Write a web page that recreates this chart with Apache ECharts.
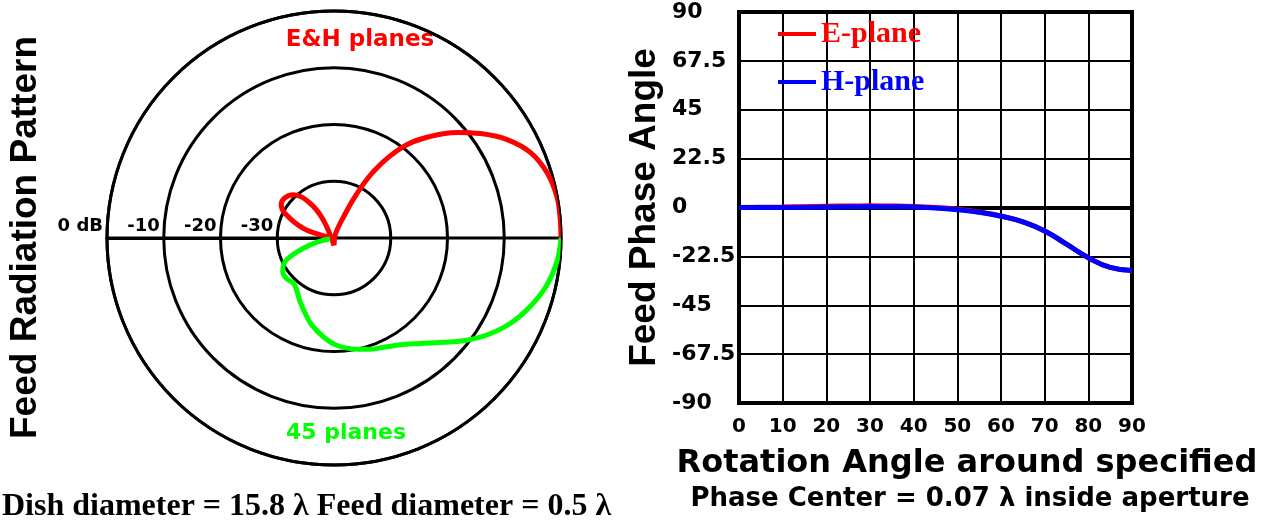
<!DOCTYPE html>
<html><head><meta charset="utf-8">
<script src="https://cdn.jsdelivr.net/npm/echarts@6/dist/echarts.min.js"></script>
<style>html,body{margin:0;padding:0;background:#fff}#c{width:1265px;height:525px}</style>
</head><body><div id="c"></div>
<script>
// ---- Polar radiation pattern: [level dB, angle deg] ----
const ehMainLobe = [[0,0],[0,5],[-0.05,10.5],[-0.7,16.9],[-2.2,23.4],[-4.9,29.6],[-8.3,35.5],[-11.4,40.6],[-15.3,46.5],[-19.8,52.8],[-26,59],[-31.5,62.9],[-36.1,65.8],[-39.2,70],[-41.3,90]];
const ehBackLobe = [[-41.3,90],[-36.3,120.7],[-32.5,124.7],[-29.5,133.4],[-28.8,141],[-29.0,147.8],[-30.3,153.3],[-34.3,162.5],[-38.7,170],[-40,180]];
const plane45 = [[0,0],[-0.5,-6.1],[-1.6,-12.5],[-3.4,-19.3],[-5.5,-25.9],[-8.1,-32.4],[-10.9,-38.5],[-13.4,-43.7],[-16.0,-50.8],[-17.6,-56.9],[-18.7,-64.1],[-19.4,-72],[-20.0,-78.4],[-21.1,-88.6],[-22.5,-96.2],[-24.2,-104.4],[-25.8,-111],[-27.3,-118.1],[-28.7,-125.7],[-29.3,-132],[-29.0,-139.6],[-29.2,-146.7],[-29.9,-152],[-31.6,-157],[-34.3,-161.4],[-36.8,-166],[-39.3,-168]];
const radiusTickLabels = ['', '-30', '-20', '-10', '0 dB'];

// ---- Phase plot ----
const rotationAngles = [0,5,10,15,20,25,30,35,40,45,50,55,60,65,70,75,80,85,90];
const ePlanePhase = [0,0.1,0.2,0.4,0.6,0.7,0.75,0.7,0.5,0,-0.8,-2.1,-3.9,-6.6,-10.8,-16.9,-23.1,-27.6,-29.0];
const hPlanePhase = [0,0,0,0.1,0.2,0.3,0.4,0.35,0.2,-0.2,-1.0,-2.2,-4.0,-6.6,-10.8,-16.9,-23.1,-27.6,-29.0];

const SANS = 'DejaVu Sans';
const ARIAL = 'Liberation Sans';
const SERIF = 'Liberation Serif';

const chart = echarts.init(document.getElementById('c'), null, {renderer: 'canvas'});
const option = {
  animation: false,
  backgroundColor: '#fff',
  polar: { center: [334, 238], radius: 227 },
  angleAxis: {
    type: 'value', min: -180, max: 180, interval: 180, startAngle: 180, clockwise: false,
    axisLine: { lineStyle: { color: '#000', width: 3 } },
    axisTick: { show: false }, axisLabel: { show: false },
    splitLine: { show: true, lineStyle: { color: '#000', width: 3 } }
  },
  radiusAxis: {
    type: 'value', min: -40, max: 0, interval: 10,
    axisLine: { show: true, lineStyle: { color: '#000', width: 3 } },
    axisTick: { show: false },
    splitLine: { show: true, lineStyle: { color: '#000', width: 3 } },
    axisLabel: {
      formatter: v => radiusTickLabels[Math.round((v + 40) / 10)],
      color: '#000', fontFamily: SANS, fontWeight: 'bold', fontSize: 18,
      align: 'right', verticalAlign: 'bottom', margin: -3, padding: [0, 4, 0, 0]
    }
  },
  grid: { left: 739, top: 12, width: 393, height: 391, show: true, borderColor: '#000', borderWidth: 4 },
  xAxis: {
    type: 'value', min: 0, max: 90, interval: 10,
    axisLine: { show: true, lineStyle: { color: '#000', width: 4 } },
    axisTick: { show: false },
    splitLine: { show: true, lineStyle: { color: '#000', width: 2 } },
    axisLabel: { color: '#000', fontFamily: SANS, fontWeight: 'bold', fontSize: 20, margin: 14 }
  },
  yAxis: {
    type: 'value', min: -90, max: 90, interval: 22.5,
    axisLine: { show: true, lineStyle: { color: '#000', width: 4 } },
    axisTick: { show: false },
    splitLine: { show: true, lineStyle: { color: '#000', width: 2 } },
    axisLabel: { color: '#000', fontFamily: SANS, fontWeight: 'bold', fontSize: 22, align: 'left', margin: 67 },
    name: 'Feed Phase Angle', nameLocation: 'middle', nameRotate: 90, nameGap: 76,
    nameTextStyle: { color: '#000', fontFamily: ARIAL, fontWeight: 'bold', fontSize: 37 }
  },
  legend: {
    orient: 'vertical', left: 773, top: 14, icon: 'rect', itemWidth: 38, itemHeight: 4, itemGap: 18,
    textStyle: { fontFamily: SERIF, fontWeight: 'bold', fontSize: 30, lineHeight: 30 },
    data: [
      { name: 'E-plane', textStyle: { color: '#ff0000' } },
      { name: 'H-plane', textStyle: { color: '#0000ff' } }
    ]
  },
  series: [
    { name: 'E&H planes', type: 'line', coordinateSystem: 'polar', data: ehMainLobe, smooth: 0.4, symbol: 'none',
      lineStyle: { color: '#ff0000', width: 5 }, itemStyle: { color: '#ff0000' } },
    { name: 'E&H planes back', type: 'line', coordinateSystem: 'polar', data: ehBackLobe, smooth: 0.4, symbol: 'none',
      lineStyle: { color: '#ff0000', width: 5 }, itemStyle: { color: '#ff0000' } },
    { name: '45 planes', type: 'line', coordinateSystem: 'polar', data: plane45, smooth: 0.4, symbol: 'none',
      lineStyle: { color: '#00ff00', width: 5 }, itemStyle: { color: '#00ff00' } },
    { name: 'E-plane', type: 'line', data: rotationAngles.map((a, i) => [a, ePlanePhase[i]]), smooth: 0.5, symbol: 'none',
      lineStyle: { color: '#ff0000', width: 5 }, itemStyle: { color: '#ff0000' } },
    { name: 'H-plane', type: 'line', data: rotationAngles.map((a, i) => [a, hPlanePhase[i]]), smooth: 0.5, symbol: 'none',
      lineStyle: { color: '#0000ff', width: 5 }, itemStyle: { color: '#0000ff' } }
  ],
  graphic: [
    { type: 'text', x: 26, y: 237.5, rotation: Math.PI / 2,
      style: { text: 'Feed Radiation Pattern', font: 'bold 37px "Liberation Sans"', fill: '#000', align: 'center', verticalAlign: 'middle' } },
    { type: 'text', x: 360, y: 40,
      style: { text: 'E&H planes', font: 'bold 23px "DejaVu Sans"', fill: '#ff0000', align: 'center', verticalAlign: 'middle' } },
    { type: 'text', x: 346, y: 433,
      style: { text: '45 planes', font: 'bold 22px "DejaVu Sans"', fill: '#00ff00', align: 'center', verticalAlign: 'middle' } },
    { type: 'text', x: 2, y: 507,
      style: { text: 'Dish diameter = 15.8 λ Feed diameter = 0.5 λ', font: 'bold 32px "Liberation Serif"', fill: '#000', align: 'left', verticalAlign: 'middle' } },
    { type: 'text', x: 967, y: 464,
      style: { text: 'Rotation Angle around specified', font: 'bold 32px "DejaVu Sans"', fill: '#000', align: 'center', verticalAlign: 'middle' } },
    { type: 'text', x: 970, y: 499,
      style: { text: 'Phase Center = 0.07 λ inside aperture', font: 'bold 26px "DejaVu Sans"', fill: '#000', align: 'center', verticalAlign: 'middle' } }
  ]
};
chart.setOption(option);
</script>
</body></html>
